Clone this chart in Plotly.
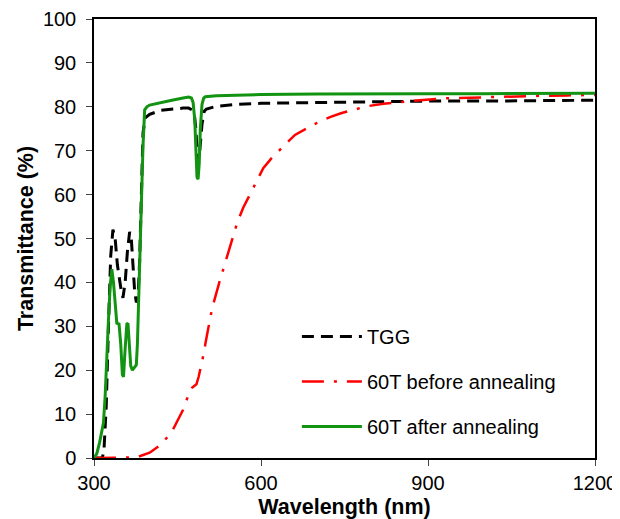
import plotly.graph_objects as go

# TGG
wl_tgg = [300, 315, 318, 322, 326, 330, 334, 338, 342, 346, 349, 352, 356, 360, 364, 367, 370, 373, 376, 379,
          382, 385, 388, 392, 400, 420, 440, 460, 470, 476, 480, 483, 485, 487, 490, 494, 498, 502, 520, 560,
          600, 700, 800, 900, 1000, 1100, 1200]
t_tgg = [0, 0, 2, 12, 30, 46, 52, 50, 44, 40, 38, 36.5, 40, 47, 51.5, 50, 44, 38, 35.5, 36,
         45, 62, 74, 77.5, 78.3, 79.2, 79.5, 79.7, 79.7, 79.3, 78.5, 75, 70, 67.5, 70, 76, 79, 79.5, 80.1, 80.6,
         80.8, 81.0, 81.2, 81.3, 81.3, 81.4, 81.5]

# 60T before annealing
wl_before = [300, 320, 340, 360, 380, 400, 420, 440, 460, 470, 476, 480, 484, 488, 495, 503, 512, 524, 532, 540,
             547, 557, 568, 577, 586, 596, 604, 619, 634, 648, 661, 682, 703, 725, 745, 766, 789, 820, 847, 885,
             924, 972, 1020, 1062, 1100, 1150, 1200]
t_before = [0, 0, 0, 0.1, 0.3, 1.2, 3, 6, 11, 14.5, 16, 16.3, 16.8, 18.5, 22.5, 28, 34, 39.5, 43, 46.5,
            49.3, 53.5, 57, 59.2, 61.4, 64, 66, 68.3, 70.3, 72, 73.6, 75.1, 76.5, 77.7, 78.6, 79.3, 80.1, 80.7, 81.1, 81.5,
            81.9, 82.1, 82.3, 82.4, 82.5, 82.6, 82.7]

# 60T after annealing
wl_after = [300, 305, 310, 314, 317, 320, 323, 326, 329, 332, 335, 338, 341, 345, 348, 351, 353, 356, 359, 361,
            363, 366, 369, 372, 376, 378, 381, 384, 386, 388, 391, 395, 400, 420, 440, 460, 470, 475, 478, 481,
            483, 485, 487, 489, 491, 494, 497, 500, 520, 560, 600, 700, 800, 900, 1000, 1100, 1200]
t_after = [0, 1, 3.5, 6, 8, 14, 24, 31.5, 39, 43, 40, 34, 30.7, 30.5, 26, 19, 18.5, 25, 30.5, 30.7,
           27, 21, 20, 20.5, 21.2, 26, 40, 56, 64, 71, 79.3, 80, 80.4, 81, 81.5, 82, 82.2, 82, 81, 77,
           70, 64, 63.5, 67, 75, 80.5, 82, 82.3, 82.5, 82.7, 82.8, 82.9, 83, 83, 83, 83, 83.1]

x_ticks = [300, 600, 900, 1200]
y_ticks = [0, 10, 20, 30, 40, 50, 60, 70, 80, 90, 100]

FONT = "Arial, Liberation Sans, sans-serif"

fig = go.Figure()
fig.add_trace(go.Scatter(x=wl_tgg, y=t_tgg, mode="lines", name="TGG", legendgroup="a",
                         line=dict(color="black", width=3, dash="12px,7px")))
fig.add_trace(go.Scatter(x=wl_before, y=t_before, mode="lines", name="60T before annealing", legendgroup="b",
                         line=dict(color="#ff0000", width=2.5, dash="22px,10px,3px,10px")))
fig.add_trace(go.Scatter(x=wl_after, y=t_after, mode="lines", name="60T after annealing", legendgroup="c",
                         line=dict(color="#129412", width=3)))

fig.update_layout(
    width=612, height=511,
    margin=dict(l=86, r=25, t=11, b=61, autoexpand=False),
    plot_bgcolor="white", paper_bgcolor="white",
    font=dict(family=FONT, size=20, color="black"),
    showlegend=True,
    legend=dict(x=0.405, y=0.321, xanchor="left", yanchor="top", bgcolor="rgba(0,0,0,0)",
                font=dict(size=20), itemwidth=60, tracegroupgap=16),
)
fig.update_xaxes(range=[300, 1200], tickvals=x_ticks, ticks="outside", ticklen=6, tickwidth=1.3,
                 showline=True, linecolor="black", linewidth=1.5, mirror=True, showgrid=False, zeroline=False,
                 tickfont=dict(size=20), automargin=False,
                 title=dict(text="<b>Wavelength (nm)</b>", font=dict(size=21.5), standoff=16))
fig.update_yaxes(range=[0, 100], tickvals=y_ticks, ticks="outside", ticklen=6, tickwidth=1.3,
                 showline=True, linecolor="black", linewidth=1.5, mirror=True, showgrid=False, zeroline=False,
                 tickfont=dict(size=20), ticklabelstandoff=6, automargin=False,
                 title=dict(text="<b>Transmittance (%)</b>", font=dict(size=21.5), standoff=3))

fig.write_html("out.html")
